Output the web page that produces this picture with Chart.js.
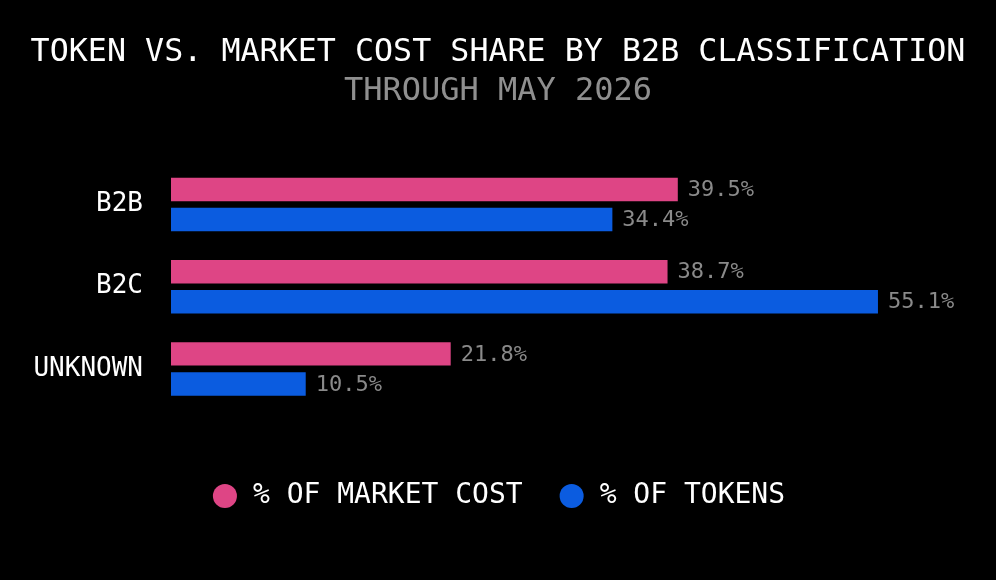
<!DOCTYPE html>
<html>
<head>
<meta charset="utf-8">
<script src="https://cdn.jsdelivr.net/npm/chart.js@4"></script>
<style>
  html,body{margin:0;padding:0;background:#000;}
  #wrap{width:996px;height:580px;}
</style>
</head>
<body>
<div id="wrap"><canvas id="chart"></canvas></div>
<script>
// data
const categories = ["B2B", "B2C", "UNKNOWN"];
const marketCost = [39.5, 38.7, 21.8];
const tokens = [34.4, 55.1, 10.5];
const seriesNames = ["% OF MARKET COST", "% OF TOKENS"];

const FONT = "'DejaVu Sans Mono', 'Liberation Mono', monospace";
const PINK = "#de4585";
const BLUE = "#0b5ce0";

// value labels at the end of each bar
const valueLabels = {
  id: "valueLabels",
  afterDatasetsDraw(chart){
    const ctx = chart.ctx;
    ctx.save();
    ctx.font = "22px " + FONT;
    ctx.fillStyle = "#8a8a8a";
    ctx.textAlign = "left";
    ctx.textBaseline = "middle";
    chart.data.datasets.forEach((ds, di) => {
      chart.getDatasetMeta(di).data.forEach((bar, i) => {
        ctx.fillText(ds.data[i].toFixed(1) + "%", bar.x + 10, bar.y + 1);
      });
    });
    ctx.restore();
  }
};

new Chart(document.getElementById("chart"), {
  type: "bar",
  data: {
    labels: categories,
    datasets: [
      {label: seriesNames[0], data: marketCost, backgroundColor: PINK, borderWidth: 0},
      {label: seriesNames[1], data: tokens, backgroundColor: BLUE, borderWidth: 0}
    ]
  },
  options: {
    indexAxis: "y",
    responsive: true,
    maintainAspectRatio: false,
    animation: false,
    categoryPercentage: 0.732,
    barPercentage: 0.78,
    layout: {padding: {left: 0, right: 0, top: 0, bottom: 60}},
    scales: {
      x: {
        min: 0, max: 64.3,
        grid: {display: false},
        border: {display: false},
        ticks: {display: false},
        afterFit: s => { s.height = 37; }
      },
      y: {
        grid: {display: false},
        border: {display: false},
        ticks: {color: "#ffffff", padding: 20, font: {family: FONT, size: 26}},
        afterFit: s => { s.width = 171; }
      }
    },
    plugins: {
      title: {
        display: true,
        text: "TOKEN VS. MARKET COST SHARE BY B2B CLASSIFICATION",
        color: "#ffffff",
        font: {family: FONT, size: 31.7, weight: "normal"},
        padding: {top: 34, bottom: 0}
      },
      subtitle: {
        display: true,
        text: "THROUGH MAY 2026",
        color: "#8f8f8f",
        font: {family: FONT, size: 32, weight: "normal"},
        padding: {top: 0, bottom: 53}
      },
      legend: {
        position: "bottom",
        labels: {
          color: "#ffffff",
          usePointStyle: true,
          pointStyle: "circle",
          boxHeight: 17,
          padding: 35,
          font: {family: FONT, size: 28}
        }
      },
      tooltip: {enabled: false}
    }
  },
  plugins: [valueLabels]
});
</script>
</body>
</html>
